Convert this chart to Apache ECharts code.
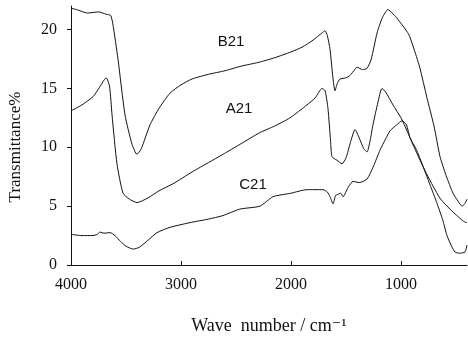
<!DOCTYPE html>
<html>
<head>
<meta charset="utf-8">
<script src="https://cdn.jsdelivr.net/npm/echarts@6/dist/echarts.min.js"></script>
<style>
  html, body { margin: 0; padding: 0; background: #fff; }
  #chart { width: 468px; height: 340px; }
</style>
</head>
<body>
<div id="chart"></div>
<script>
// tick labels
var xTicks = [4000, 3000, 2000, 1000];
var yTicks = [0, 5, 10, 15, 20];

// B21 spectrum
var b21Wave = [4000, 3950, 3850, 3750, 3680, 3640, 3620, 3573, 3509, 3445, 3400, 3360, 3282, 3200, 3100, 3000, 2900, 2750, 2600, 2450, 2300, 2150, 2000, 1900, 1800, 1720, 1690, 1670, 1645, 1620, 1600, 1580, 1555, 1500, 1464, 1420, 1400, 1350, 1309, 1270, 1218, 1170, 1118, 1080, 1040, 982, 930, 891, 830, 764, 700, 645, 590, 527, 480, 445, 420, 400];
var b21Trans = [21.8, 21.7, 21.4, 21.5, 21.3, 21.2, 20.5, 17.5, 12.75, 10.25, 9.4, 9.9, 11.9, 13.3, 14.6, 15.3, 15.8, 16.2, 16.5, 16.9, 17.2, 17.6, 18.1, 18.5, 19.1, 19.7, 19.9, 19.5, 18.3, 16.0, 14.8, 15.4, 15.8, 15.9, 16.1, 16.6, 16.8, 16.6, 16.7, 17.5, 19.7, 21.0, 21.7, 21.4, 21.0, 20.3, 19.6, 18.6, 16.8, 14.2, 11.8, 9.2, 7.6, 6.1, 5.4, 5.0, 5.2, 5.6];

// A21 spectrum
var a21Wave = [4000, 3900, 3800, 3740, 3700, 3680, 3650, 3627, 3582, 3527, 3470, 3400, 3300, 3200, 3073, 2900, 2750, 2618, 2464, 2282, 2150, 2009, 1855, 1780, 1718, 1690, 1664, 1640, 1627, 1582, 1536, 1500, 1460, 1418, 1380, 1340, 1309, 1280, 1255, 1210, 1173, 1140, 1073, 1000, 945, 890, 827, 770, 709, 640, 555, 480, 430, 400];
var a21Trans = [13.1, 13.6, 14.3, 15.1, 15.7, 15.9, 15.2, 12.75, 8.6, 6.1, 5.6, 5.3, 5.7, 6.3, 6.9, 7.9, 8.7, 9.4, 10.25, 11.25, 11.8, 12.5, 13.6, 14.2, 15.0, 14.8, 13.3, 10.5, 9.2, 8.9, 8.6, 9.1, 10.4, 11.5, 10.8, 9.9, 9.6, 10.6, 11.9, 13.8, 15.0, 14.7, 13.6, 12.5, 11.4, 10.2, 8.9, 7.8, 6.7, 5.6, 4.75, 4.1, 3.7, 3.6];

// C21 spectrum
var c21Wave = [4000, 3900, 3800, 3760, 3736, 3700, 3645, 3600, 3550, 3500, 3436, 3380, 3300, 3218, 3100, 2918, 2750, 2618, 2464, 2282, 2164, 2000, 1855, 1709, 1670, 1645, 1618, 1595, 1573, 1550, 1527, 1480, 1436, 1380, 1309, 1250, 1191, 1140, 1100, 1040, 991, 950, 918, 860, 809, 740, 673, 620, 582, 540, 509, 470, 418, 400];
var c21Trans = [2.6, 2.5, 2.5, 2.6, 2.8, 2.7, 2.75, 2.5, 2.0, 1.6, 1.35, 1.5, 2.1, 2.75, 3.2, 3.6, 3.9, 4.2, 4.75, 5.0, 5.8, 6.1, 6.4, 6.4, 6.2, 5.8, 5.2, 5.9, 6.0, 6.1, 5.8, 6.6, 7.1, 7.0, 7.3, 8.4, 9.75, 10.7, 11.4, 11.9, 12.25, 11.9, 10.8, 9.8, 8.6, 6.9, 5.25, 3.8, 2.5, 1.6, 1.1, 1.0, 1.1, 1.7];

function pairs(xs, ys) {
    return xs.map(function(x, i) { return [x, ys[i]]; });
}

var serif = '"Liberation Serif", "DejaVu Serif", serif';
var sans = '"Liberation Sans", Arial, sans-serif';
var ink = '#111';

function spectrum(name, xs, ys) {
    return {
        name: name,
        type: 'line',
        data: pairs(xs, ys),
        showSymbol: false,
        smooth: 0.2,
        lineStyle: { color: ink, width: 1 },
        silent: true
    };
}

var chart = echarts.init(document.getElementById('chart'), null, { renderer: 'canvas' });
chart.setOption({
    backgroundColor: '#fff',
    animation: false,
    grid: { left: 71, right: 1, top: 6, bottom: 70 },
    xAxis: {
        type: 'value',
        inverse: true,
        min: 400,
        max: 4000,
        name: 'Wave  number / cm\u207B\u00B9',
        nameLocation: 'middle',
        nameGap: 52,
        nameTextStyle: { fontFamily: serif, fontSize: 18, color: ink },
        axisLine: { onZero: false, lineStyle: { color: ink, width: 1 } },
        axisTick: { inside: true, length: 4, customValues: xTicks, lineStyle: { color: ink } },
        axisLabel: {
            customValues: xTicks, margin: 12, fontFamily: serif, fontSize: 16, color: ink,
            formatter: function(v) { return String(v); }
        },
        splitLine: { show: false }
    },
    yAxis: {
        type: 'value',
        min: 0,
        max: 22,
        axisLine: { show: true, lineStyle: { color: ink, width: 1 } },
        axisTick: { show: true, length: 4, customValues: yTicks, lineStyle: { color: ink } },
        axisLabel: { customValues: yTicks, margin: 14, fontFamily: serif, fontSize: 16, color: ink },
        splitLine: { show: false }
    },
    graphic: [
        {
            type: 'text', x: 16, y: 147, rotation: Math.PI / 2,
            style: { text: 'Transmittance%', font: '17px ' + serif, fill: ink, align: 'center', verticalAlign: 'middle' }
        },
        {
            type: 'text', x: 231, y: 42,
            style: { text: 'B21', font: '15px ' + sans, fill: ink, align: 'center', verticalAlign: 'middle' }
        },
        {
            type: 'text', x: 239, y: 109,
            style: { text: 'A21', font: '15px ' + sans, fill: ink, align: 'center', verticalAlign: 'middle' }
        },
        {
            type: 'text', x: 253, y: 185,
            style: { text: 'C21', font: '15px ' + sans, fill: ink, align: 'center', verticalAlign: 'middle' }
        }
    ],
    series: [
        spectrum('B21', b21Wave, b21Trans),
        spectrum('A21', a21Wave, a21Trans),
        spectrum('C21', c21Wave, c21Trans)
    ]
});
</script>
</body>
</html>
